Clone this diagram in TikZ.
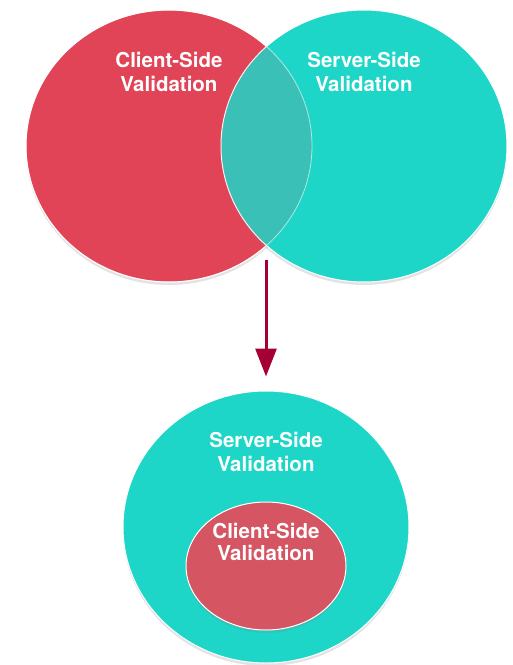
\documentclass[tikz,border=0pt]{standalone}
\usepackage{fontspec}
\newfontfamily\lblfont{TeX Gyre Heros}
\usepackage{tikz}
\usetikzlibrary{positioning}
\usetikzlibrary{shapes.geometric}
\usetikzlibrary{shadows}
\usetikzlibrary{arrows.meta}
\definecolor{clientred}{HTML}{E24457}
\definecolor{clientmuted}{HTML}{D55563}
\definecolor{serverteal}{HTML}{1ED6C8}
\definecolor{arrowred}{HTML}{A50034}

\begin{document}
\begin{tikzpicture}
  [
    x=1pt, y=-1pt,
    bubble/.style={ellipse, minimum width=286pt, minimum height=272pt,
      inner sep=0pt, draw=white, line width=1pt,
      drop shadow={shadow xshift=0pt, shadow yshift=-3pt, opacity=0.22}},
    lbl/.style={text=white, align=center, inner sep=0pt,
      font=\lblfont\bfseries\fontsize{20.5}{24}\selectfont},
    ld/.style={draw=arrowred, line width=3pt,
      -{Triangle[length=28pt, width=21pt]}, shorten >=14pt}
  ]
  \useasboundingbox (0,0) rectangle (513,665);

  \node (client) at (169,146) [bubble, fill=clientred] {};
  \node (server) at (364,146) [bubble, fill=serverteal] {};
  \begin{scope}
    \clip (client.center) ellipse [x radius=143pt, y radius=136pt];
    \fill [clientred, opacity=0.15] (server.center) ellipse [x radius=143pt, y radius=136pt];
  \end{scope}
  \draw [white, opacity=0.6, line width=0.8pt] (client.center) ellipse [x radius=143pt, y radius=136pt];

  \node (clientlbl) [lbl, below=43pt of client.north] {Client-Side\\Validation};
  \node (serverlbl) [lbl, below=43pt of server.north] {Server-Side\\Validation};

  \node (serverbig) at (266,527) [bubble, fill=serverteal] {};
  \node (clientsmall) at (266,566) [bubble, fill=clientmuted,
    minimum width=160pt, minimum height=128pt] {};

  \node (serverbiglbl) [lbl, below=42pt of serverbig.north] {Server-Side\\Validation};
  \node (clientsmalllbl) [lbl, below=22pt of clientsmall.north,
    font=\lblfont\bfseries\fontsize{20.5}{22}\selectfont] {Client-Side\\Validation};

  \coordinate (split) at (266,260);
  \draw [ld] (split) -- (serverbig.north);
\end{tikzpicture}
\end{document}
